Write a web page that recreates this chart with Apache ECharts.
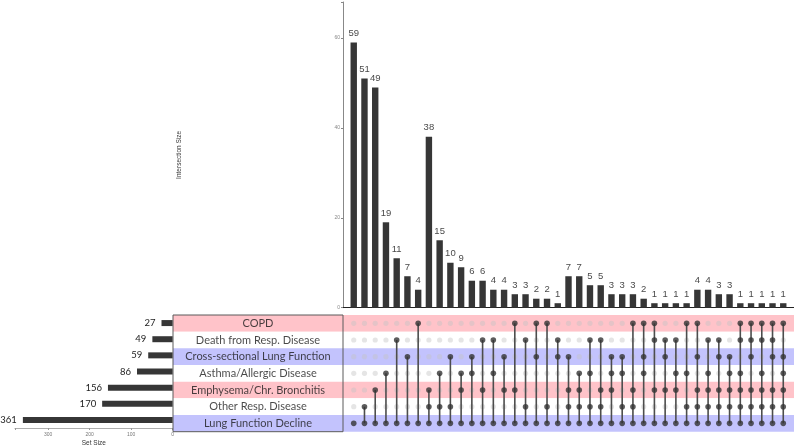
<!DOCTYPE html>
<html>
<head>
<meta charset="utf-8">
<script src="https://cdn.jsdelivr.net/npm/echarts@6/dist/echarts.min.js"></script>
<style>
  html, body { margin: 0; padding: 0; background: #fff; }
  #chart { width: 794px; height: 448px; }
</style>
</head>
<body>
<div id="chart"></div>
<script>
// sets, top to bottom in the matrix
const setNames = [
  'COPD',
  'Death from Resp. Disease',
  'Cross-sectional Lung Function',
  'Asthma/Allergic Disease',
  'Emphysema/Chr. Bronchitis',
  'Other Resp. Disease',
  'Lung Function Decline'
]
const setSizes = [27, 49, 59, 86, 156, 170, 361]

// intersection bars, left to right
const intersectionSizes = [
  59, 51, 49, 19, 11, 7, 4,
  38, 15, 10, 9, 6, 6, 4, 4, 3, 3, 2, 2, 1,
  7, 7, 5, 5, 3, 3, 3, 2, 1, 1, 1, 1,
  4, 4, 3, 3,
  1, 1, 1, 1, 1
]

// which sets (row index) take part in each intersection
const intersectionMembers = [
  [6],
  [5, 6], [4, 6], [3, 6], [1, 6], [2, 6], [0, 6],
  [4, 5, 6], [3, 5, 6], [2, 5, 6], [3, 4, 6], [2, 3, 6], [1, 4, 6], [1, 3, 6],
  [2, 4, 6], [0, 4, 6], [1, 5, 6], [0, 2, 6], [0, 5, 6], [1, 2, 6],
  [2, 4, 5, 6], [3, 4, 5, 6], [1, 3, 5, 6], [1, 4, 5, 6], [2, 3, 4, 6], [2, 3, 5, 6],
  [0, 4, 5, 6], [0, 2, 3, 6], [0, 1, 4, 6], [1, 2, 4, 6], [1, 3, 4, 6], [0, 3, 5, 6],
  [0, 2, 4, 5, 6], [1, 3, 4, 5, 6], [1, 2, 4, 5, 6], [2, 3, 4, 5, 6],
  [0, 1, 3, 4, 5, 6], [0, 1, 2, 4, 5, 6], [0, 1, 3, 4, 5, 6], [0, 1, 2, 4, 5, 6], [0, 2, 3, 4, 5, 6]
]

const intersectionTicks = [0, 20, 40, 60]
const setSizeTicks = [0, 100, 200, 300]

const stripeColors = ['#ffc3c9', '#ffffff', '#c3c3fd', '#ffffff', '#ffc3c9', '#ffffff', '#c3c3fd']

const chart = echarts.init(document.getElementById('chart'), null, { renderer: 'canvas' })

// build matrix data from the membership lists
const barData = intersectionSizes.map((v, i) => [i + 1, v])
const filledDots = []
const emptyDots = []
const connectors = []
intersectionMembers.forEach((members, i) => {
  setNames.forEach((name, r) => {
    if (members.indexOf(r) >= 0) filledDots.push([i + 1, r])
    else emptyDots.push([i + 1, r])
  })
  connectors.push([i + 1, Math.min(...members), Math.max(...members)])
})

const rowAxis = (gridIndex) => ({
  type: 'category',
  gridIndex: gridIndex,
  data: setNames,
  inverse: true,
  axisLine: { show: false },
  axisTick: { show: false },
  axisLabel: { show: false },
  splitArea: { show: true, areaStyle: { color: stripeColors } }
})

const option = {
  animation: false,
  backgroundColor: '#fff',
  grid: [
    { left: 343, top: 2, width: 451, height: 305.7 },
    { left: 343, top: 315, width: 451, height: 116.7 },
    { left: 173, top: 315, width: 170, height: 116.7, show: true, borderColor: '#5a5a5a', borderWidth: 1, backgroundColor: 'transparent', z: 5 },
    { left: 15, top: 315, width: 157.7, height: 116.7 }
  ],
  xAxis: [
    {
      type: 'value', gridIndex: 0, min: 0, max: 42,
      axisLine: { show: true, lineStyle: { color: '#222', width: 1 } },
      axisTick: { show: false }, axisLabel: { show: false }, splitLine: { show: false }
    },
    {
      type: 'value', gridIndex: 1, min: 0, max: 42, show: false
    },
    {
      type: 'value', gridIndex: 2, min: 0, max: 1, show: false
    },
    {
      type: 'value', gridIndex: 3, min: 0, max: 380, interval: 100, inverse: true,
      name: 'Set Size', nameLocation: 'middle', nameGap: 12,
      nameTextStyle: { fontFamily: 'Liberation Sans', fontSize: 6.5, color: '#333' },
      axisLine: { show: true, lineStyle: { color: '#999', width: 0.8 } },
      axisTick: { show: true, length: 2, lineStyle: { color: '#999' } },
      axisLabel: {
        fontFamily: 'Liberation Sans', fontSize: 5, color: '#777', margin: 4,
        formatter: (v) => setSizeTicks.indexOf(v) >= 0 ? String(v) : ''
      },
      splitLine: { show: false }
    }
  ],
  yAxis: [
    {
      type: 'value', gridIndex: 0, min: 0, max: 68, interval: 20,
      name: 'Intersection Size', nameLocation: 'middle', nameGap: 160,
      nameTextStyle: { fontFamily: 'Liberation Sans', fontSize: 6.5, color: '#333' },
      axisLine: { show: true, lineStyle: { color: '#888', width: 1 } },
      axisTick: { show: true, length: 2, lineStyle: { color: '#888' } },
      axisLabel: {
        fontFamily: 'Liberation Sans', fontSize: 5, color: '#888', margin: 3,
        formatter: (v) => intersectionTicks.indexOf(v) >= 0 ? String(v) : ''
      },
      splitLine: { show: false }
    },
    rowAxis(1),
    rowAxis(2),
    {
      type: 'category', gridIndex: 3, data: setNames, inverse: true,
      axisLine: { show: false }, axisTick: { show: false }, axisLabel: { show: false }
    }
  ],
  series: [
    {
      type: 'bar',
      xAxisIndex: 0, yAxisIndex: 0,
      data: barData,
      barWidth: 6.4,
      itemStyle: { color: '#363636' },
      label: {
        show: true, position: 'top', distance: 4,
        fontFamily: 'Liberation Sans', fontSize: 9.5, color: '#4a4a4a'
      }
    },
    {
      type: 'scatter',
      xAxisIndex: 1, yAxisIndex: 1,
      data: emptyDots,
      symbolSize: 5.2,
      itemStyle: { color: 'rgba(195,195,195,0.55)' },
      z: 2
    },
    {
      type: 'custom',
      xAxisIndex: 1, yAxisIndex: 1,
      data: connectors,
      encode: { x: 0, y: [1, 2] },
      renderItem: (params, api) => {
        const p0 = api.coord([api.value(0), api.value(1)])
        const p1 = api.coord([api.value(0), api.value(2)])
        return {
          type: 'line',
          shape: { x1: p0[0], y1: p0[1], x2: p1[0], y2: p1[1] },
          style: { stroke: '#4d4d4d', lineWidth: 1.6 }
        }
      },
      z: 3
    },
    {
      type: 'scatter',
      xAxisIndex: 1, yAxisIndex: 1,
      data: filledDots,
      symbolSize: 5.6,
      itemStyle: { color: '#333' },
      z: 4
    },
    {
      type: 'scatter',
      xAxisIndex: 2, yAxisIndex: 2,
      data: setNames.map((n, i) => [0.5, i]),
      symbolSize: 0,
      label: {
        show: true, position: 'inside',
        formatter: (p) => setNames[p.data[1]],
        fontFamily: 'Lato', fontSize: 11, color: '#1a1a1a'
      },
      z: 6
    },
    {
      type: 'bar',
      xAxisIndex: 3, yAxisIndex: 3,
      data: setSizes,
      barWidth: 6,
      itemStyle: { color: '#363636' },
      label: {
        show: true, position: 'left', distance: 6,
        fontFamily: 'Lato', fontSize: 9.5, color: '#222'
      }
    }
  ]
}

chart.setOption(option)
</script>
</body>
</html>
